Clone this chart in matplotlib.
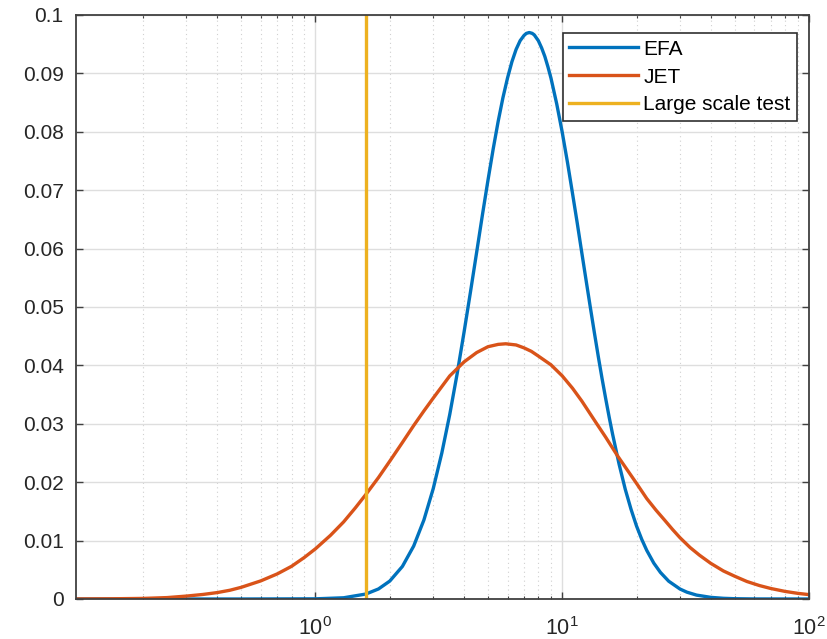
import matplotlib
matplotlib.use("Agg")
import matplotlib.pyplot as plt
from matplotlib.ticker import LogLocator, NullFormatter, FixedLocator

plt.rcParams['font.family'] = ['Liberation Sans', 'DejaVu Sans']
plt.rcParams['mathtext.fontset'] = 'custom'
plt.rcParams['mathtext.rm'] = 'Liberation Sans'
plt.rcParams['mathtext.it'] = 'Liberation Sans'

# ---- data ----
efa_x = [0.107, 0.5, 1.0, 1.3, 1.6, 1.8, 2.0, 2.25, 2.5, 2.75, 3.0, 3.25, 3.5,
         3.75, 4.0, 4.25, 4.5, 4.75, 5.0, 5.25, 5.5, 5.75, 6.0, 6.25, 6.5, 6.75,
         7.0, 7.15, 7.35, 7.55, 7.7, 8.0, 8.25, 8.5, 8.75, 9.0, 9.5, 10, 10.5,
         11, 11.5, 12, 12.5, 13, 13.5, 14, 14.5, 15, 15.5, 16, 17, 18, 19, 20,
         21, 22, 23.5, 25, 27, 30, 32, 35, 40, 45, 50, 60, 100]
efa_y = [0.0, 0.0, 0.00003, 0.00021, 0.00085, 0.00172, 0.00307, 0.00558,
         0.00907, 0.01353, 0.0189, 0.02499, 0.0316, 0.03857, 0.0457, 0.05267,
         0.0594, 0.06583, 0.0717, 0.07707, 0.0818, 0.08585, 0.0892, 0.09198,
         0.0941, 0.0956, 0.0965, 0.09685, 0.0970, 0.09686, 0.0966, 0.0956,
         0.09436, 0.0929, 0.09112, 0.0892, 0.08475, 0.0799, 0.07476, 0.0695,
         0.06438, 0.0593, 0.05449, 0.0499, 0.04556, 0.0415, 0.03774, 0.0343,
         0.0311, 0.0282, 0.02307, 0.0188, 0.01536, 0.0125, 0.01021, 0.00833,
         0.00614, 0.00455, 0.00305, 0.00171, 0.00117, 0.00067, 0.00028,
         0.00012, 0.00005, 0.00001, 0.0]

jet_x = [0.107, 0.15, 0.2, 0.25, 0.3, 0.35, 0.4, 0.45, 0.5, 0.6, 0.7, 0.8, 0.9,
         1.0, 1.15, 1.3, 1.45, 1.6, 1.8, 2.0, 2.25, 2.5, 2.75, 3.0, 3.5, 4.0,
         4.5, 5.0, 5.5, 5.9, 6.5, 7.0, 7.5, 8.0, 9.0, 10, 11, 12, 13.8, 15,
         16.7, 18, 20, 22, 24, 26, 28, 30, 33, 36, 40, 45, 50, 56, 63, 70, 80,
         90, 100]
jet_y = [0.00001, 0.00004, 0.0001, 0.00024, 0.0005, 0.00078, 0.0011, 0.0015,
         0.0020, 0.0031, 0.0043, 0.0056, 0.0071, 0.0086, 0.0109, 0.0132,
         0.0156, 0.0179, 0.0208, 0.0236, 0.0268, 0.0297, 0.0322, 0.0344,
         0.0382, 0.0406, 0.0422, 0.0432, 0.0436, 0.0437, 0.0435, 0.0430,
         0.0424, 0.0416, 0.0401, 0.0382, 0.0361, 0.0339, 0.0300, 0.0277,
         0.0246, 0.0226, 0.0198, 0.0172, 0.0152, 0.0135, 0.0119, 0.0105,
         0.0088, 0.0075, 0.0061, 0.0048, 0.0039, 0.0030, 0.0023, 0.0018,
         0.0013, 0.00097, 0.00075]

large_scale_x = 1.6

series_labels = ['EFA', 'JET', 'Large scale test']
y_ticks = [0, 0.01, 0.02, 0.03, 0.04, 0.05, 0.06, 0.07, 0.08, 0.09, 0.1]
x_major = [1, 10, 100]
x_tick_labels = [r'$\mathregular{10^{0}}$', r'$\mathregular{10^{1}}$',
                 r'$\mathregular{10^{2}}$']

c_blue = '#0072BD'
c_orange = '#D95319'
c_yellow = '#EDB120'
txt = '#262626'

fig = plt.figure(figsize=(8.28, 6.39), dpi=100)
ax = fig.add_axes([76 / 828, 1 - 599 / 639, 733 / 828, 584 / 639])

ax.plot(efa_x, efa_y, color=c_blue, lw=2.4, label=series_labels[0])
ax.plot(jet_x, jet_y, color=c_orange, lw=2.4, label=series_labels[1])
ax.axvline(large_scale_x, color=c_yellow, lw=2.4, label=series_labels[2])

ax.set_xscale('log')
ax.set_xlim(0.107, 100)
ax.set_ylim(0, 0.1)

ax.xaxis.set_major_locator(FixedLocator(x_major))
ax.set_xticklabels(x_tick_labels)
ax.xaxis.set_minor_locator(LogLocator(base=10, subs=range(2, 10), numticks=20))
ax.xaxis.set_minor_formatter(NullFormatter())
ax.set_yticks(y_ticks)
ax.set_yticklabels(['%g' % v for v in y_ticks])

ax.grid(True, which='major', color='#dedede', lw=1.0, ls='-')
ax.grid(True, which='minor', axis='x', color='#d0d0d0', lw=0.8, ls=(0, (1, 3)))
ax.set_axisbelow(True)

ax.tick_params(which='both', direction='in', top=True, right=True,
               colors='#404040', labelcolor=txt, labelsize=15)
ax.tick_params(which='major', length=5, width=1)
ax.tick_params(which='minor', length=2.5, width=0.8)
ax.tick_params(axis='y', pad=9)
ax.tick_params(axis='x', pad=13)
for lab in ax.get_xticklabels():
    lab.set_fontsize(15.5)
for s in ax.spines.values():
    s.set_color('#404040')
    s.set_linewidth(1.3)

leg = ax.legend(loc='upper right', bbox_to_anchor=(0.984, 0.969), borderaxespad=0,
                fontsize=15, frameon=True, fancybox=False, framealpha=1,
                edgecolor='#303030', handlelength=3.3, handletextpad=0.25,
                labelspacing=0.42, borderpad=0.32)
leg.get_frame().set_linewidth(1.2)
for t in leg.get_texts():
    t.set_color('#000000')

fig.savefig('out.png', dpi=100)
